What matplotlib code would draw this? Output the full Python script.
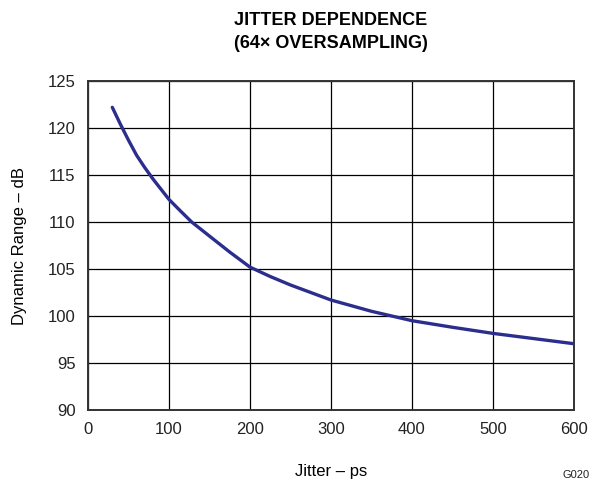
import matplotlib
matplotlib.use('Agg')
import matplotlib.pyplot as plt

plt.rcParams['font.family'] = ['Liberation Sans', 'DejaVu Sans']

# values
jitter_ps = [30, 40, 50, 60, 70, 80, 90, 100, 115, 128, 150, 175, 200, 225, 250, 300,
             350, 400, 450, 500, 550, 600]
dyn_range_db = [122.2, 120.4, 118.7, 117.1, 115.8, 114.6, 113.5, 112.4, 111.1, 110.0,
                108.5, 106.8, 105.2, 104.2, 103.3, 101.7, 100.5, 99.5, 98.8, 98.15,
                97.6, 97.05]

x_ticks = [0, 100, 200, 300, 400, 500, 600]
y_ticks = [90, 95, 100, 105, 110, 115, 120, 125]

fig = plt.figure(figsize=(6.04, 4.86), dpi=100)
ax = fig.add_axes([0.1457, 0.1564, 0.8046, 0.6769])

ax.plot(jitter_ps, dyn_range_db, color='#2B2E8C', lw=2.4, solid_capstyle='round',
        solid_joinstyle='round', zorder=3)

ax.set_xlim(0, 600)
ax.set_ylim(90, 125)
ax.set_xticks(x_ticks)
ax.set_yticks(y_ticks)
ax.grid(True, color='black', lw=0.9)
ax.tick_params(length=0, labelsize=12, pad=9, colors='#222222')
for s in ax.spines.values():
    s.set_color('#333333')
    s.set_linewidth(1.4)

ax.set_xlabel('Jitter – ps', fontsize=12, labelpad=19)
ax.set_ylabel('Dynamic Range – dB', fontsize=12, labelpad=15)

fig.text(0.548, 0.958, 'JITTER DEPENDENCE', ha='center', va='center',
         fontsize=13, fontweight='bold')
fig.text(0.548, 0.910, '(64× OVERSAMPLING)', ha='center', va='center',
         fontsize=13, fontweight='bold')
fig.text(0.977, 0.012, 'G020', ha='right', va='bottom', fontsize=8, color='#222222')

plt.savefig('out.png', dpi=100)
plt.close()
